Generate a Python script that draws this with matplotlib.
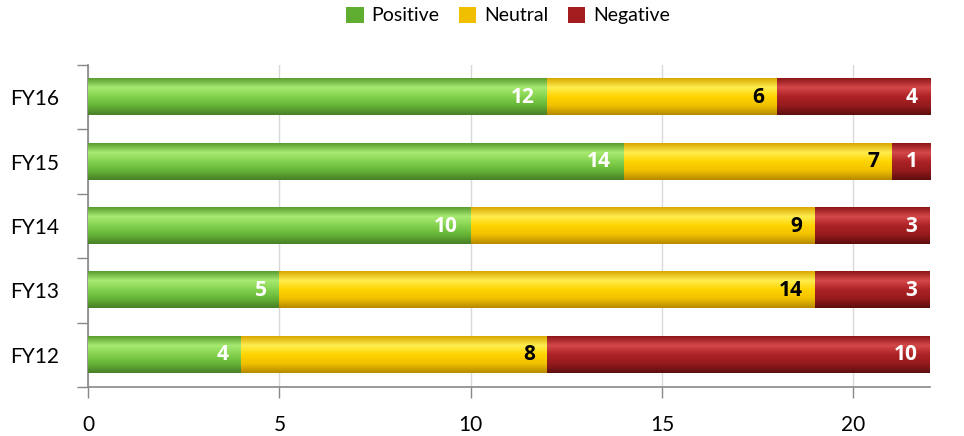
import numpy as np
import matplotlib
matplotlib.use("Agg")
import matplotlib.pyplot as plt
from matplotlib.colors import LinearSegmentedColormap
from matplotlib.patches import Patch

categories = ["FY12", "FY13", "FY14", "FY15", "FY16"]
positive = [4, 5, 10, 14, 12]
neutral = [8, 14, 9, 7, 6]
negative = [10, 3, 3, 1, 4]
series_names = ["Positive", "Neutral", "Negative"]
xticks = [0, 5, 10, 15, 20]

plt.rcParams['font.family'] = ['Lato', 'DejaVu Sans']

base_colors = ["#5fae32", "#f0c000", "#a31d1f"]
grad_stops = [
    ["#5a9e30", "#a8ea72", "#84d24e", "#66b436", "#4a7f28"],
    ["#d9a800", "#ffee50", "#ffd400", "#f0c000", "#b68a00"],
    ["#8c1719", "#d5484a", "#ad2225", "#951b1d", "#5e0e10"],
]
label_colors = ["white", "black", "white"]

fig = plt.figure(figsize=(9.64, 4.36), dpi=100)
ax = fig.add_axes([88/964, 1-387/436, (930-88)/964, (387-65)/436])

y = np.arange(len(categories))
data = [positive, neutral, negative]
left = np.zeros(len(categories))
bar_h = 0.56
for si, vals in enumerate(data):
    bars = ax.barh(y, vals, left=left, height=bar_h, color=base_colors[si],
                   zorder=2, edgecolor='none')
    cmap = LinearSegmentedColormap.from_list(f"g{si}", grad_stops[si])
    grad = np.linspace(0, 1, 64).reshape(-1, 1)
    for b, v in zip(bars, vals):
        x0, y0, w, h = b.get_x(), b.get_y(), b.get_width(), b.get_height()
        ax.imshow(grad, cmap=cmap, aspect='auto', extent=(x0, x0 + w, y0, y0 + h),
                  zorder=3, interpolation='bilinear')
        ax.text(x0 + w - 0.33, y0 + h / 2, str(v), ha='right', va='center',
                color=label_colors[si], fontsize=15, fontweight='bold', zorder=5,
                family=['Open Sans', 'DejaVu Sans'])
    left = left + np.array(vals)

ax.set_xlim(0, 22)
ax.set_ylim(-0.5, len(categories) - 0.5)
ax.set_yticks(y)
ax.set_yticklabels(categories, fontsize=15)
ax.set_yticks(np.arange(-0.5, len(categories), 1), minor=True)
ax.tick_params(axis='y', which='major', length=0, pad=21)
ax.tick_params(axis='y', which='minor', length=8, color='#888888', width=1)
ax.set_xticks(xticks)
ax.set_xticklabels([str(t) for t in xticks], fontsize=15)
ax.tick_params(axis='x', length=8, color='#888888', width=1, pad=12)
ax.grid(axis='x', color='#d9d9d9', linewidth=1, zorder=0)
ax.set_axisbelow(True)
for s in ['top', 'right']:
    ax.spines[s].set_visible(False)
for s in ['left', 'bottom']:
    ax.spines[s].set_color('#888888')
    ax.spines[s].set_linewidth(1.2)

handles = [Patch(facecolor=base_colors[i], edgecolor='none', label=series_names[i]) for i in range(3)]
fig.legend(handles=handles, loc='upper center', bbox_to_anchor=(0.527, 1.025), ncol=3,
           frameon=False, fontsize=14, handlelength=0.9, handleheight=0.9,
           handletextpad=0.4, columnspacing=1.0)

fig.savefig("out.png", dpi=100)
